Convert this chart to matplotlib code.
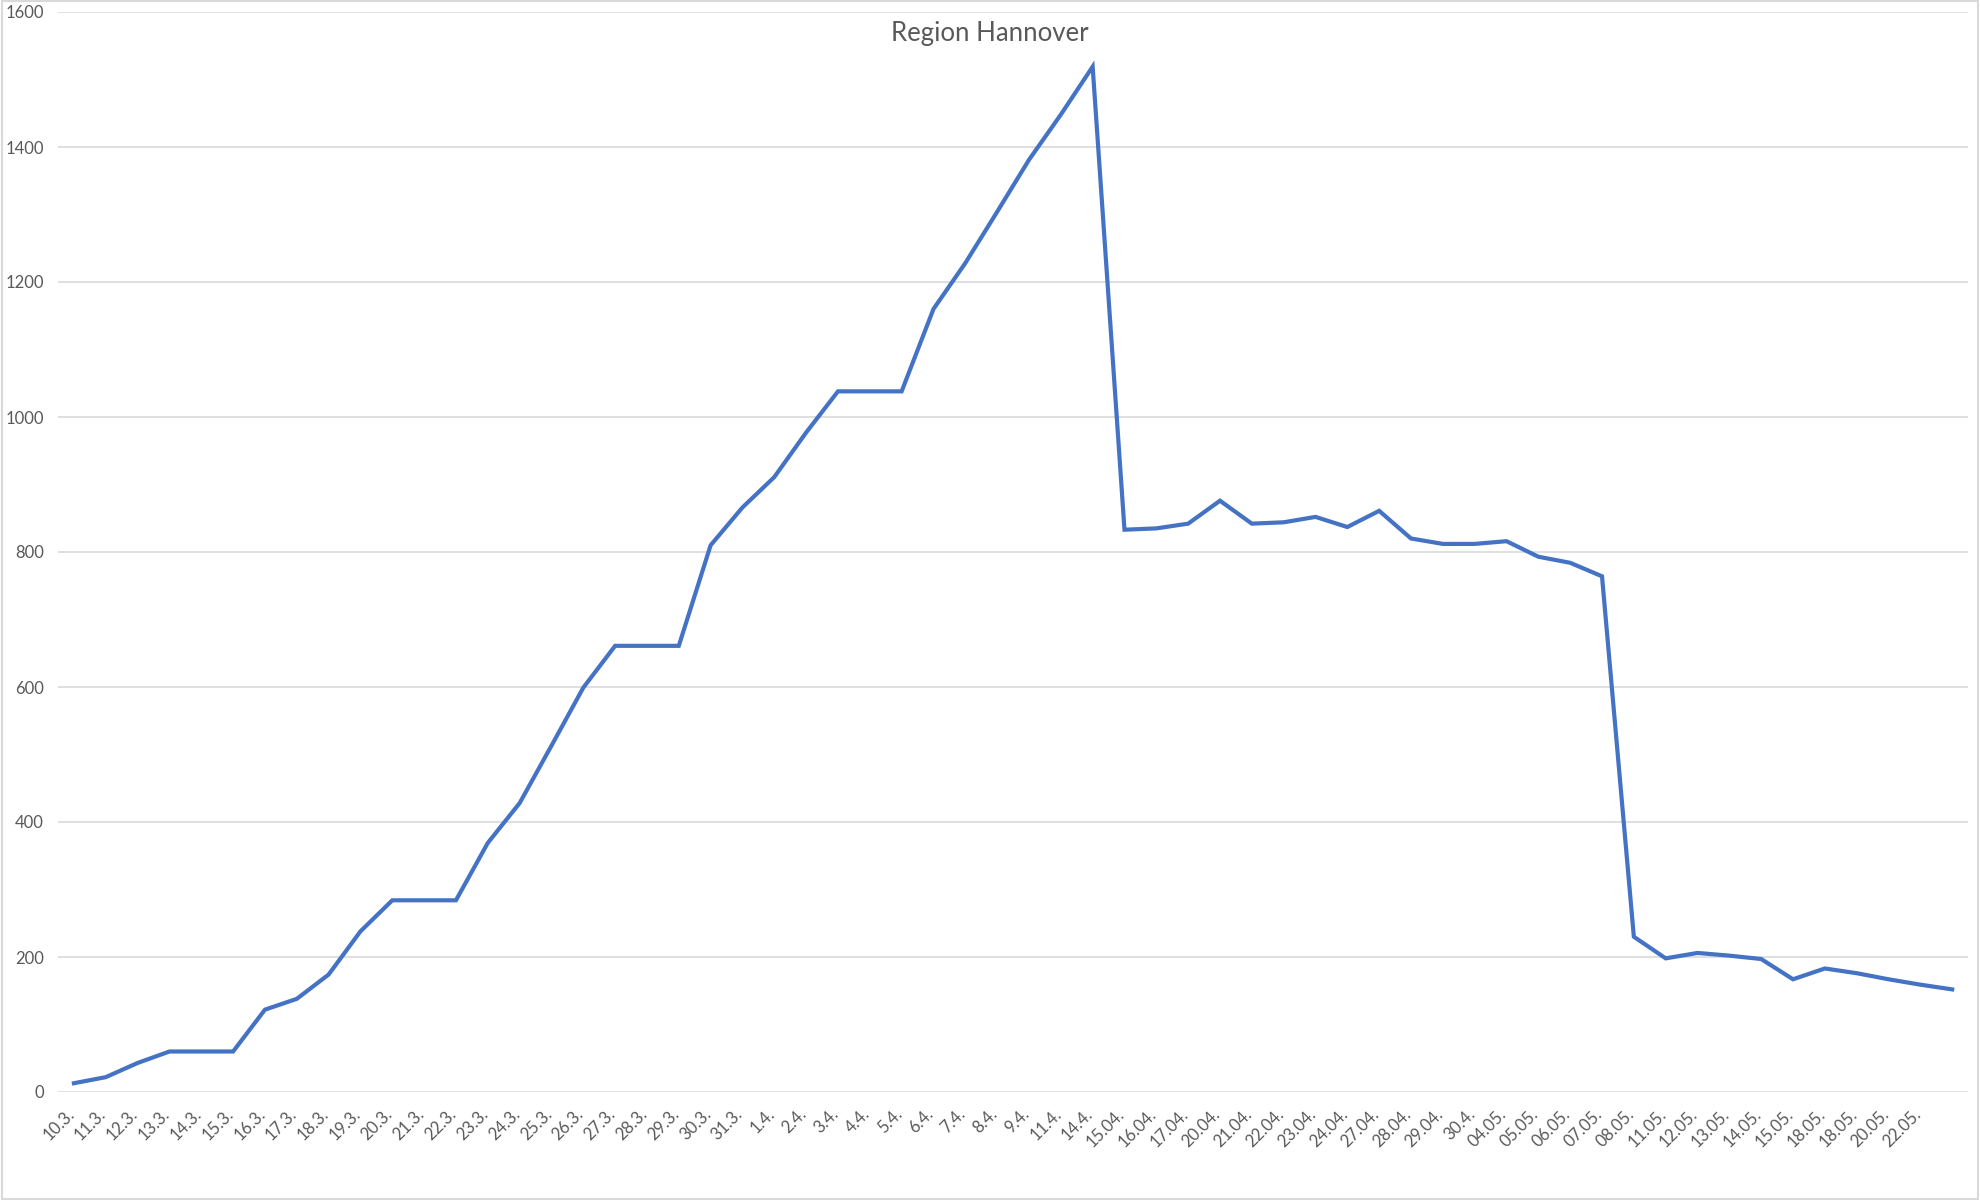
import matplotlib.pyplot as plt
import matplotlib.transforms as mtransforms
import numpy as np

# dates as printed on the chart (last category has no label)
dates = [
    "10.3.", "11.3.", "12.3.", "13.3.", "14.3.", "15.3.", "16.3.", "17.3.", "18.3.", "19.3.",
    "20.3.", "21.3.", "22.3.", "23.3.", "24.3.", "25.3.", "26.3.", "27.3.", "28.3.", "29.3.",
    "30.3.", "31.3.", "1.4.", "2.4.", "3.4.", "4.4.", "5.4.", "6.4.", "7.4.", "8.4.",
    "9.4.", "11.4.", "14.4.", "15.04.", "16.04.", "17.04.", "20.04.", "21.04.", "22.04.", "23.04.",
    "24.04.", "27.04.", "28.04.", "29.04.", "30.4.", "04.05.", "05.05.", "06.05.", "07.05.", "08.05.",
    "11.05.", "12.05.", "13.05.", "14.05.", "15.05.", "18.05.", "18.05.", "20.05.", "22.05.", "",
]

# cases in Region Hannover
cases = [
    13, 22, 43, 60, 60, 60, 122, 138, 174, 238,
    284, 284, 284, 369, 428, 513, 599, 661, 661, 661,
    810, 866, 911, 977, 1038, 1038, 1038, 1160, 1228, 1304,
    1381, 1448, 1519, 833, 835, 842, 876, 842, 844, 852,
    837, 861, 820, 812, 812, 816, 793, 784, 764, 230,
    198, 206, 202, 197, 167, 183, 176, 167, 159, 152,
]

plt.rcParams["font.family"] = ["Lato", "DejaVu Sans"]

fig = plt.figure(figsize=(19.8, 12), dpi=100)
ax = fig.add_axes([0.0293, 0.09, 0.9647, 0.9])

x = np.arange(len(cases))
ax.plot(x, cases, color="#4472C4", linewidth=3.0, solid_joinstyle="miter")

ax.set_xlim(-0.5, len(cases) - 0.5)
ax.set_ylim(0, 1600)
ax.set_yticks(np.arange(0, 1601, 200))
ax.grid(axis="y", color="#D9D9D9", linewidth=1.2)
ax.set_axisbelow(True)
for s in ax.spines.values():
    s.set_visible(False)

ax.set_xticks(x)
ax.set_xticklabels(dates, rotation=45, ha="right", va="top", rotation_mode="anchor")
ax.tick_params(axis="both", length=0, labelsize=12, labelcolor="#595959")
ax.tick_params(axis="y", pad=10)
ax.tick_params(axis="x", pad=10)
offset = mtransforms.ScaledTranslation(-0.08, 0, fig.dpi_scale_trans)
for lbl in ax.get_xticklabels():
    lbl.set_transform(lbl.get_transform() + offset)

fig.text(0.5, 0.972, "Region Hannover", ha="center", va="center", fontsize=18.5, color="#595959")

# light chart border
fig.patches.append(plt.Rectangle((0.001, 0.001), 0.998, 0.998, transform=fig.transFigure,
                                 fill=False, edgecolor="#D9D9D9", linewidth=1.5))

fig.savefig("out.png", dpi=100, facecolor="white")
